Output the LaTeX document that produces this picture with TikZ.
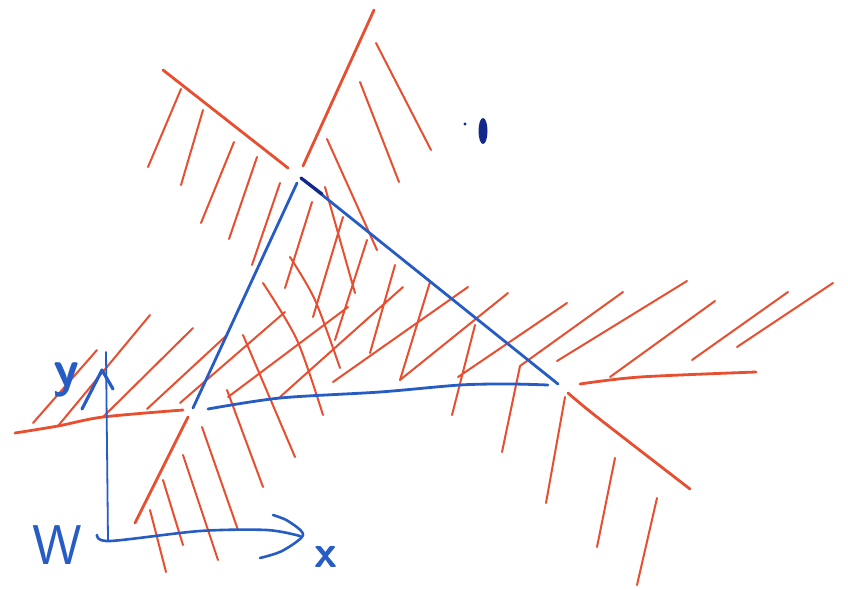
\documentclass[tikz,border=0pt]{standalone}
\definecolor{penred}{RGB}{232,78,48}
\definecolor{penblue}{RGB}{38,92,196}
\definecolor{inkblue}{RGB}{20,40,140}
\begin{document}
\begin{tikzpicture}[x=1pt,y=-1pt,
  redline/.style={draw=penred, line width=2.8pt, line cap=round, line join=round},
  hatch/.style={draw=penred, line width=2pt, line cap=round},
  blueline/.style={draw=penblue, line width=2.8pt, line cap=round, line join=round},
  lbl/.style={text=penblue, inner sep=0pt, font=\sffamily}]
\useasboundingbox (0,0) rectangle (848,589);
\fill[white] (0,0) rectangle (848,589);

% triangle vertices
\coordinate (T) at (299,180);
\coordinate (L) at (193,408);
\coordinate (R) at (558,384);

% hatching
\draw[hatch]
  (181,89) -- (148,167)  (203,110) -- (181,185)  (234,142) -- (201,223)
  (257,157) -- (229,239) (280,183) -- (252,265)
  (376,43) -- (431,150)  (360,82) -- (399,182)   (327,139) -- (377,250)
  (325,187) -- (355,293)
  (312,202) -- (285,288) (343,217) -- (313,317)  (367,240) -- (335,340)
  (395,265) -- (370,353) (430,282) -- (400,380)  (475,325) -- (452,415)
  (520,366) -- (502,452)
  (243,335) -- (295,457) (227,390) -- (263,487)  (202,427) -- (238,530)
  (183,455) -- (218,560) (163,480) -- (183,545)  (150,510) -- (166,572)
  (97,350) -- (33,423)   (150,315) -- (58,426)   (193,328) -- (103,417)
  (227,335) -- (147,409) (285,312) -- (180,403)  (348,307) -- (228,397)
  (403,287) -- (280,397) (468,287) -- (333,382)  (508,293) -- (400,380)
  (567,303) -- (458,377) (623,292) -- (520,366)  (687,281) -- (557,361)
  (715,301) -- (610,377) (788,292) -- (692,360)  (833,283) -- (737,347)
  (565,397) -- (546,503) (615,458) -- (597,547)  (657,498) -- (637,585);
\draw[hatch] plot[smooth] coordinates {(263,283) (297,340) (323,415)};
\draw[hatch] plot[smooth] coordinates {(290,257) (315,300) (340,368)};

% boundary lines
\draw[redline] (163,70) -- (288,168);
\draw[redline] (374,10) -- (303,166);
\draw[redline] plot[smooth] coordinates {(15,433) (58,426) (103,417) (183,410)};
\draw[redline] plot[smooth] coordinates {(580,384) (640,377) (756,372)};
\draw[redline] (188,417) -- (135,523);
\draw[redline] plot[smooth] coordinates {(568,393) (597,417) (690,489)};

% triangle
\draw[blueline] (297,183) -- (L);
\draw[blueline] (301,178) -- (R);
\draw[draw=inkblue, line width=3.2pt, line cap=round] (301,178) -- (322,194);
\draw[blueline] plot[smooth] coordinates {(208,409) (280,398) (380,392) (460,385) (510,384) (548,385)};

% axes
\draw[draw=penblue, line width=1.8pt, line cap=round] (106,352) -- (108,540);
\draw[draw=penblue, line width=3.2pt, line cap=round, line join=round] (82,409) -- (102,370) -- (113,389);
\draw[draw=penblue, line width=2.6pt, line cap=round, line join=round]
  plot[smooth] coordinates {(97,535) (110,541) (200,531) (267,530) (300,536)};
\draw[draw=penblue, line width=2.6pt, line cap=round, line join=round]
  plot[smooth] coordinates {(273,515) (288,521) (303,535) (282,551) (260,558)};

% ink blot
\fill[inkblue] (483,131) ellipse (4.5pt and 13pt);
\fill[inkblue] (465,124) circle (1.6pt);

% labels
\node[lbl, font=\sffamily\bfseries\fontsize{52}{52}\selectfont] (ylab) at (66,380) {y};
\node[lbl, font=\sffamily\fontsize{56}{56}\selectfont] (wlab) at (57,545) {W};
\node[lbl, font=\sffamily\bfseries\fontsize{46}{46}\selectfont] (xlab) at (326,557) {x};
\end{tikzpicture}
\end{document}
